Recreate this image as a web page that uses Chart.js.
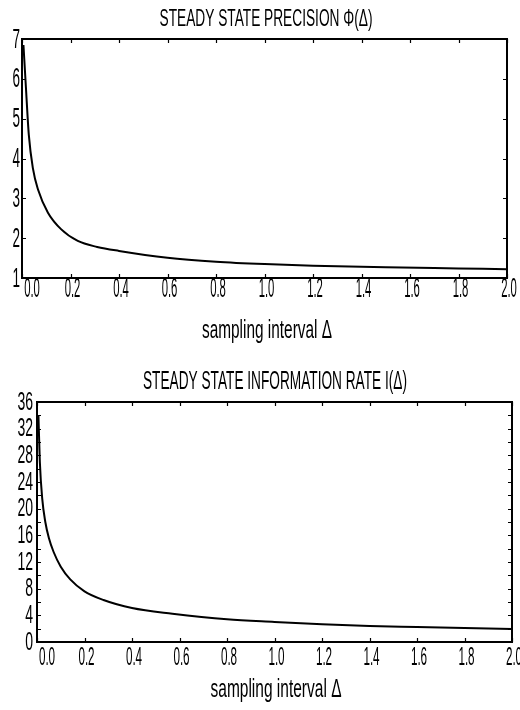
<!DOCTYPE html>
<html>
<head>
<meta charset="utf-8">
<script src="https://cdn.jsdelivr.net/npm/chart.js@4/dist/chart.umd.min.js"></script>
<style>
  html, body { margin: 0; padding: 0; background: #fff; }
  #wrap { position: relative; width: 520px; height: 710px; }
  canvas { position: absolute; left: 0; }
  #top { top: 0; }
  #bottom { top: 355px; }
</style>
</head>
<body>
<div id="wrap">
  <canvas id="top" width="520" height="355"></canvas>
  <canvas id="bottom" width="520" height="355"></canvas>
</div>
<script>
// Datos
const deltaPrecision = [0.006, 0.016, 0.028, 0.045, 0.066, 0.107, 0.162, 0.23, 0.31, 0.4, 0.6, 0.8, 1.0, 1.2, 1.5, 1.8, 2.0];
const precision = [6.85, 5.8, 4.6, 3.75, 3.22, 2.64, 2.22, 1.93, 1.78, 1.68, 1.51, 1.41, 1.35, 1.31, 1.27, 1.24, 1.22];

const deltaInfo = [0.006, 0.012, 0.022, 0.035, 0.05, 0.07, 0.1, 0.14, 0.2, 0.28, 0.4, 0.57, 0.8, 1.0, 1.2, 1.4, 1.6, 1.8, 2.0];
const infoRate = [34.0, 27.0, 21.5, 18.0, 15.6, 13.5, 11.3, 9.4, 7.6, 6.3, 5.1, 4.25, 3.4, 3.0, 2.65, 2.4, 2.25, 2.1, 1.95];

const xTicks = [0.0, 0.2, 0.4, 0.6, 0.8, 1.0, 1.2, 1.4, 1.6, 1.8, 2.0];
const yTicksPrecision = [1, 2, 3, 4, 5, 6, 7];
const yTicksInfo = [0, 4, 8, 12, 16, 20, 24, 28, 32, 36];
const yMinorInfo = [2, 6, 10, 14, 18, 22, 26, 30, 34];

const titlePrecision = 'STEADY STATE PRECISION Φ(Δ)';
const titleInfo = 'STEADY STATE INFORMATION RATE I(Δ)';
const xTitle = 'sampling interval Δ';

const FONT = '"Liberation Sans Narrow", "Liberation Sans", sans-serif';

// texto comprimido horizontalmente, como en la figura original
function textoAncho(ctx, text, x, y, size, width, align) {
    ctx.font = size + 'px ' + FONT;
    const sx = width / ctx.measureText(text).width;
    ctx.save();
    ctx.translate(x, y);
    ctx.scale(sx, 1);
    ctx.textAlign = align || 'center';
    ctx.textBaseline = 'alphabetic';
    ctx.fillStyle = '#000';
    ctx.fillText(text, 0, 0);
    ctx.restore();
}

function textoDigitos(ctx, text, x, y, size, digitW, align) {
    ctx.font = size + 'px ' + FONT;
    const sx = digitW / ctx.measureText('0').width;
    ctx.save();
    ctx.translate(x, y);
    ctx.scale(sx, 1);
    ctx.textAlign = align;
    ctx.textBaseline = 'alphabetic';
    ctx.fillStyle = '#000';
    ctx.fillText(text, 0, 0);
    ctx.restore();
}

const marcoPlugin = {
    id: 'marco',
    afterDraw(chart, args, o) {
        const ctx = chart.ctx;
        const a = chart.chartArea;
        const sx = chart.scales.x;
        const sy = chart.scales.y;

        ctx.save();
        ctx.strokeStyle = '#000';

        // marcas hacia adentro
        ctx.lineWidth = 1.2;
        ctx.beginPath();
        o.xTicks.forEach(v => {
            const px = Math.round(sx.getPixelForValue(v)) + 0.5;
            ctx.moveTo(px, a.top); ctx.lineTo(px, a.top + 4);
            ctx.moveTo(px, a.bottom); ctx.lineTo(px, a.bottom - 4);
        });
        o.yTicks.concat(o.yMinor || []).forEach(v => {
            const py = Math.round(sy.getPixelForValue(v)) + 0.5;
            ctx.moveTo(a.left, py); ctx.lineTo(a.left + 4, py);
            ctx.moveTo(a.right, py); ctx.lineTo(a.right - 4, py);
        });
        ctx.stroke();

        // marco
        ctx.lineWidth = 2;
        ctx.strokeRect(a.left, a.top, a.right - a.left, a.bottom - a.top);
        ctx.restore();

        // etiquetas del eje y
        o.yTicks.forEach(v => {
            const py = sy.getPixelForValue(v);
            textoDigitos(ctx, String(v), a.left - o.yGap, py + o.tickH / 2, o.tickSize, o.yDigitW, 'right');
        });

        // etiquetas del eje x
        o.xTicks.forEach((v, i) => {
            const px = sx.getPixelForValue(v) + (i === 0 ? 10 : 2);
            textoDigitos(ctx, v.toFixed(1), px, o.xLabelBase, o.tickSize, o.xDigitW, 'center');
        });

        textoAncho(ctx, o.title, o.titleX, o.titleBase, o.titleSize, o.titleW);
        textoAncho(ctx, o.xTitle, o.xTitleX, o.xTitleBase, o.xTitleSize, o.xTitleW);
    }
};

function crearGrafico(id, xs, ys, yMin, yMax, padding, marco) {
    const puntos = xs.map((x, i) => ({ x: x, y: ys[i] }));
    return new Chart(document.getElementById(id).getContext('2d'), {
        type: 'line',
        data: {
            datasets: [{
                data: puntos,
                borderColor: '#000',
                borderWidth: 2,
                pointRadius: 0,
                fill: false,
                cubicInterpolationMode: 'monotone'
            }]
        },
        options: {
            responsive: false,
            animation: false,
            devicePixelRatio: 1,
            layout: { padding: padding },
            scales: {
                x: { type: 'linear', min: 0, max: 2, display: false },
                y: { type: 'linear', min: yMin, max: yMax, display: false }
            },
            plugins: {
                legend: { display: false },
                tooltip: { enabled: false },
                marco: marco
            }
        },
        plugins: [marcoPlugin]
    });
}

document.addEventListener('DOMContentLoaded', function() {
    try {
        crearGrafico('top', deltaPrecision, precision, 1, 7,
            { left: 22, right: 13, top: 39, bottom: 77 },
            {
                xTicks: xTicks, yTicks: yTicksPrecision, yMinor: [],
                tickSize: 28, tickH: 17, yDigitW: 7.5, xDigitW: 6.3, yGap: 2,
                xLabelBase: 297,
                title: titlePrecision, titleX: 266, titleBase: 25.7, titleSize: 24, titleW: 213,
                xTitle: xTitle, xTitleX: 267, xTitleBase: 338, xTitleSize: 26, xTitleW: 130
            });

        crearGrafico('bottom', deltaInfo, infoRate, 0, 36,
            { left: 37, right: 8, top: 47, bottom: 68 },
            {
                xTicks: xTicks, yTicks: yTicksInfo, yMinor: yMinorInfo,
                tickSize: 25, tickH: 15, yDigitW: 7.8, xDigitW: 6.5, yGap: 4,
                xLabelBase: 310,
                title: titleInfo, titleX: 275, titleBase: 34.3, titleSize: 25, titleW: 264,
                xTitle: xTitle, xTitleX: 276, xTitleBase: 342, xTitleSize: 25, xTitleW: 131
            });
    } catch (error) {
        console.error('Error al crear los gráficos:', error);
    }
});
</script>
</body>
</html>
